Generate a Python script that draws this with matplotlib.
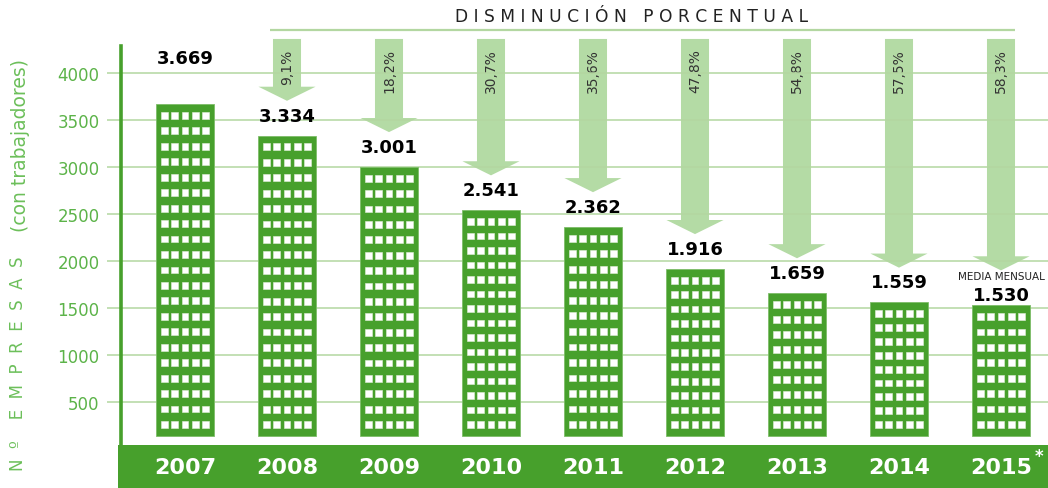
import numpy as np
import matplotlib.pyplot as plt

# data
years = ['2007', '2008', '2009', '2010', '2011', '2012', '2013', '2014', '2015']
empresas = [3669, 3334, 3001, 2541, 2362, 1916, 1659, 1559, 1530]
labels = ['3.669', '3.334', '3.001', '2.541', '2.362', '1.916', '1.659', '1.559', '1.530']
disminucion = ['9,1%', '18,2%', '30,7%', '35,6%', '47,8%', '54,8%', '57,5%', '58,3%']
yticks = [500, 1000, 1500, 2000, 2500, 3000, 3500, 4000]

# colours
green = '#47a02c'
tick_c = '#5cb349'
grid_c = '#b3d7a1'
arrow_c = '#b4dba5'

W, H = 1048, 489
fig = plt.figure(figsize=(W / 100, H / 100), dpi=100)
left_px = 120.5
ax = fig.add_axes([left_px / W, 0, 1 - left_px / W, 1])

# scale: one year = 102 px, 500 units = 47 px
ax.set_xlim((left_px - 185) / 102, (W - 185) / 102)
ax.set_ylim(-415, 4787)

x = np.arange(len(years))
vals = np.array(empresas)
base = 140

ax.set_axisbelow(True)
ax.set_yticks(yticks)
ax.set_yticklabels([str(t) for t in yticks])
ax.tick_params(axis='y', length=10, width=1.1, color=grid_c, pad=5,
               labelsize=12, labelcolor=tick_c)
ax.yaxis.grid(True, color=grid_c, lw=1.1)
ax.set_xticks([])
for s in ['top', 'right', 'bottom']:
    ax.spines[s].set_visible(False)
ax.spines['left'].set_color(green)
ax.spines['left'].set_linewidth(2.6)
ax.spines['left'].set_bounds(40, 4290)

# bars with windows
ax.bar(x, vals - base, bottom=base, width=0.56, color=green,
       edgecolor='#7dbd68', lw=0.6, zorder=2)
win_h, win_w, margin = 72, 0.064, 84
for xi, v in zip(x, vals):
    h = v - base
    n = int(round(h / 165))
    pitch = (h - 2 * margin - win_h) / (n - 1)
    for r in range(n):
        y0 = base + margin + r * pitch
        for c in range(-2, 3):
            ax.add_patch(plt.Rectangle((xi + c * 0.101 - win_w / 2, y0), win_w, win_h,
                                       facecolor='white', edgecolor='#e3f0dc',
                                       lw=0.4, zorder=3))

# value labels
for i, (xi, v, lab) in enumerate(zip(x, vals, labels)):
    off = 46 if i == 0 else (10 if i == len(x) - 1 else 20)
    ax.annotate(lab, (xi, v), xytext=(0, off * 0.72), textcoords='offset points',
                ha='center', va='center', fontsize=13, fontweight='bold',
                color='black', zorder=5)
ax.annotate('MEDIA MENSUAL', (x[-1], vals[-1]), xytext=(0, 29 * 0.72),
            textcoords='offset points', ha='center', va='center',
            fontsize=7.5, color='#222222', zorder=5)

# arrows
top = 4362
for xi, v, p in zip(x[1:], vals[1:], disminucion):
    tip = v + 370
    ax.arrow(xi, top, 0, tip - top, width=0.275, head_width=0.56, head_length=150,
             length_includes_head=True, color=arrow_c, lw=0, zorder=0.3)
    ax.text(xi, top - 100, p, rotation=90, ha='center', va='top',
            fontsize=10, color='#333333', zorder=0.4)

ax.hlines(4457, x[1] - 0.17, x[-1] + 0.14, color=grid_c, lw=1.6)
ax.text(4.38, 4606, ' '.join('DISMINUCIÓN PORCENTUAL'), ha='center', va='center',
        fontsize=12.3, color='#222222')

# bottom band with years
ax.add_patch(plt.Rectangle((ax.get_xlim()[0] - 0.025, -415),
                           ax.get_xlim()[1] - ax.get_xlim()[0] + 0.05, 415 + 43,
                           facecolor=green, edgecolor='none', clip_on=False, zorder=4))
for xi, yr in zip(x, years):
    ax.text(xi, -191, yr, ha='center', va='center', fontsize=16,
            fontweight='bold', color='white', zorder=5)
ax.text(x[-1] + 0.37, -74, '*', ha='center', va='center', fontsize=12,
        fontweight='bold', color='white', zorder=5)

# y label
fig.text(21 / W, 1 - 145 / H, '(con trabajadores)', rotation=90, ha='center',
         va='center', fontsize=13.5, color='#6cbf5a')
fig.text(18 / W, 1 - 364 / H, 'N  º    E  M  P  R  E  S  A  S', rotation=90,
         ha='center', va='center', fontsize=12, color='#6cbf5a')

fig.savefig('out.png', dpi=100)
